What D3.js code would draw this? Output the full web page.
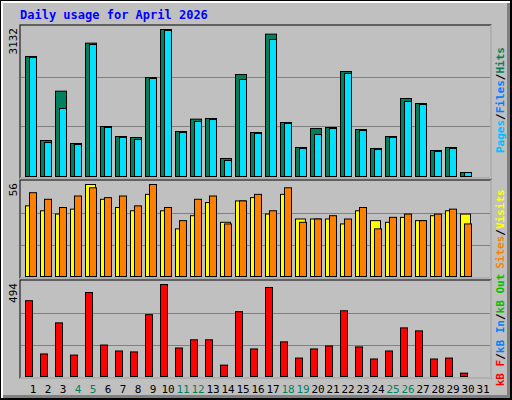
<!DOCTYPE html>
<html><head><meta charset="utf-8">
<script src="https://cdn.jsdelivr.net/npm/d3@7"></script>
<style>body{margin:0;background:#fff}text{font-family:"DejaVu Sans Mono",monospace}</style>
</head><body><svg id="c" width="512" height="400"></svg>
<script>
var days = d3.range(1, 32);
var weekend = [4,5,11,12,18,19,25,26];
var hits = [2557,767,1818,703,2841,1065,852,831,2109,3132,959,1222,1236,384,2173,937,3033,1150,618,1023,1044,2237,1001,597,852,1662,1555,554,618,85,0];
var files = [2535,724,1449,682,2812,1044,831,788,2088,3111,937,1172,1214,341,2067,916,2919,1129,597,895,1023,2195,980,575,831,1598,1534,533,597,85,0];
var visits = [43,40,38,41,56,47,42,40,50,40,29,37,45,33,46,48,38,50,35,35,35,32,40,34,33,36,34,37,40,38,0];
var sites = [51,47,42,49,54,48,49,43,56,42,34,47,49,32,46,50,40,54,33,35,37,35,42,29,36,38,34,38,41,32,0];
var kbytes = [407,121,288,115,451,169,137,132,332,494,153,197,197,61,348,148,478,186,99,148,164,353,159,94,137,261,245,94,99,18,0];

var svg = d3.select("#c");
// frame
svg.append("rect").attr("x",0).attr("y",0).attr("width",512).attr("height",400).attr("fill","#000");
svg.append("rect").attr("x",1).attr("y",1).attr("width",509).attr("height",397).attr("fill","#fff");
svg.append("rect").attr("x",3).attr("y",3).attr("width",507).attr("height",395).attr("fill","#808080");
svg.append("rect").attr("x",3).attr("y",3).attr("width",504).attr("height",392).attr("fill","#c0c0c0");
svg.append("text").attr("x",20).attr("y",19).attr("fill","#0000ff").attr("font-weight","bold")
  .attr("font-size",12).text("Daily usage for April 2026");

var x = d3.scaleBand().domain(days).range([25, 25 + 31*15]);

function panel(top, bot, barBot, max, ymax){
  svg.append("rect").attr("x",20).attr("y",top).attr("width",471).attr("height",bot-top)
    .attr("fill","#c0c0c0").attr("stroke","#000");
  svg.append("path").attr("d","M20,"+bot+"H491V"+top).attr("stroke","#fff").attr("fill","none");
  var y = d3.scaleLinear().domain([0, max]).range([barBot, ymax]);
  [1/3, 2/3].forEach(function(f){
    var gy = Math.round(barBot - (bot - top - 4) * f) + 0.5;
    svg.append("line").attr("x1",21).attr("x2",490).attr("y1",gy).attr("y2",gy).attr("stroke","#808080");
  });
  svg.append("text").attr("transform","translate(17,"+(top+3)+") rotate(-90)")
    .attr("text-anchor","end").attr("font-size",11).attr("fill","#000").text(max);
  return y;
}

function bars(vals, y, dx, w, color){
  svg.append("g").selectAll("rect").data(vals).join("rect")
    .filter(function(d){return d>0;})
    .attr("x", function(d,i){return x(days[i]) + dx + 0.5;})
    .attr("y", function(d){return y(d) + 0.5;})
    .attr("width", w).attr("height", function(d){return y(0) - y(d);})
    .attr("fill", color).attr("stroke","#000");
}

var y1 = panel(25, 178, 176, 3132, 29);
bars(hits, y1, 0, 11, "#00805c");
bars(files, y1, 4, 7, "#00e0ff");

var y2 = panel(180, 278, 276, 56, 184);
bars(visits, y2, 0, 10, "#ffff00");
bars(sites, y2, 4, 7, "#ff8000");

var y3 = panel(280, 378, 376, 494, 284);
bars(kbytes, y3, 0, 7, "#ff0000");

svg.append("g").selectAll("text").data(days).join("text")
  .attr("x", function(d){return x(d) + 8;}).attr("y", 393).attr("text-anchor","middle")
  .attr("font-size",11).attr("font-family","DejaVu Sans")
  .attr("fill", function(d){return weekend.indexOf(d) >= 0 ? "#00805c" : "#000";}).text(function(d){return d;});

function sideLabel(cy, parts){
  var t = svg.append("text").attr("transform","translate(504,"+cy+") rotate(-90)")
    .attr("text-anchor","middle").attr("font-size",11).attr("font-weight","bold");
  parts.forEach(function(p){ t.append("tspan").attr("fill", p[1]).text(p[0]); });
}
sideLabel(100, [["Pages","#00c0ff"],["/","#000"],["Files","#0080ff"],["/","#000"],["Hits","#00805c"]]);
sideLabel(229, [["Sites","#ff8000"],["/","#000"],["Visits","#ffff00"]]);
sideLabel(330, [["kB F","#ff0000"],["/","#000"],["kB In","#0080ff"],["/","#000"],["kB Out","#00c000"]]);
</script></body></html>
